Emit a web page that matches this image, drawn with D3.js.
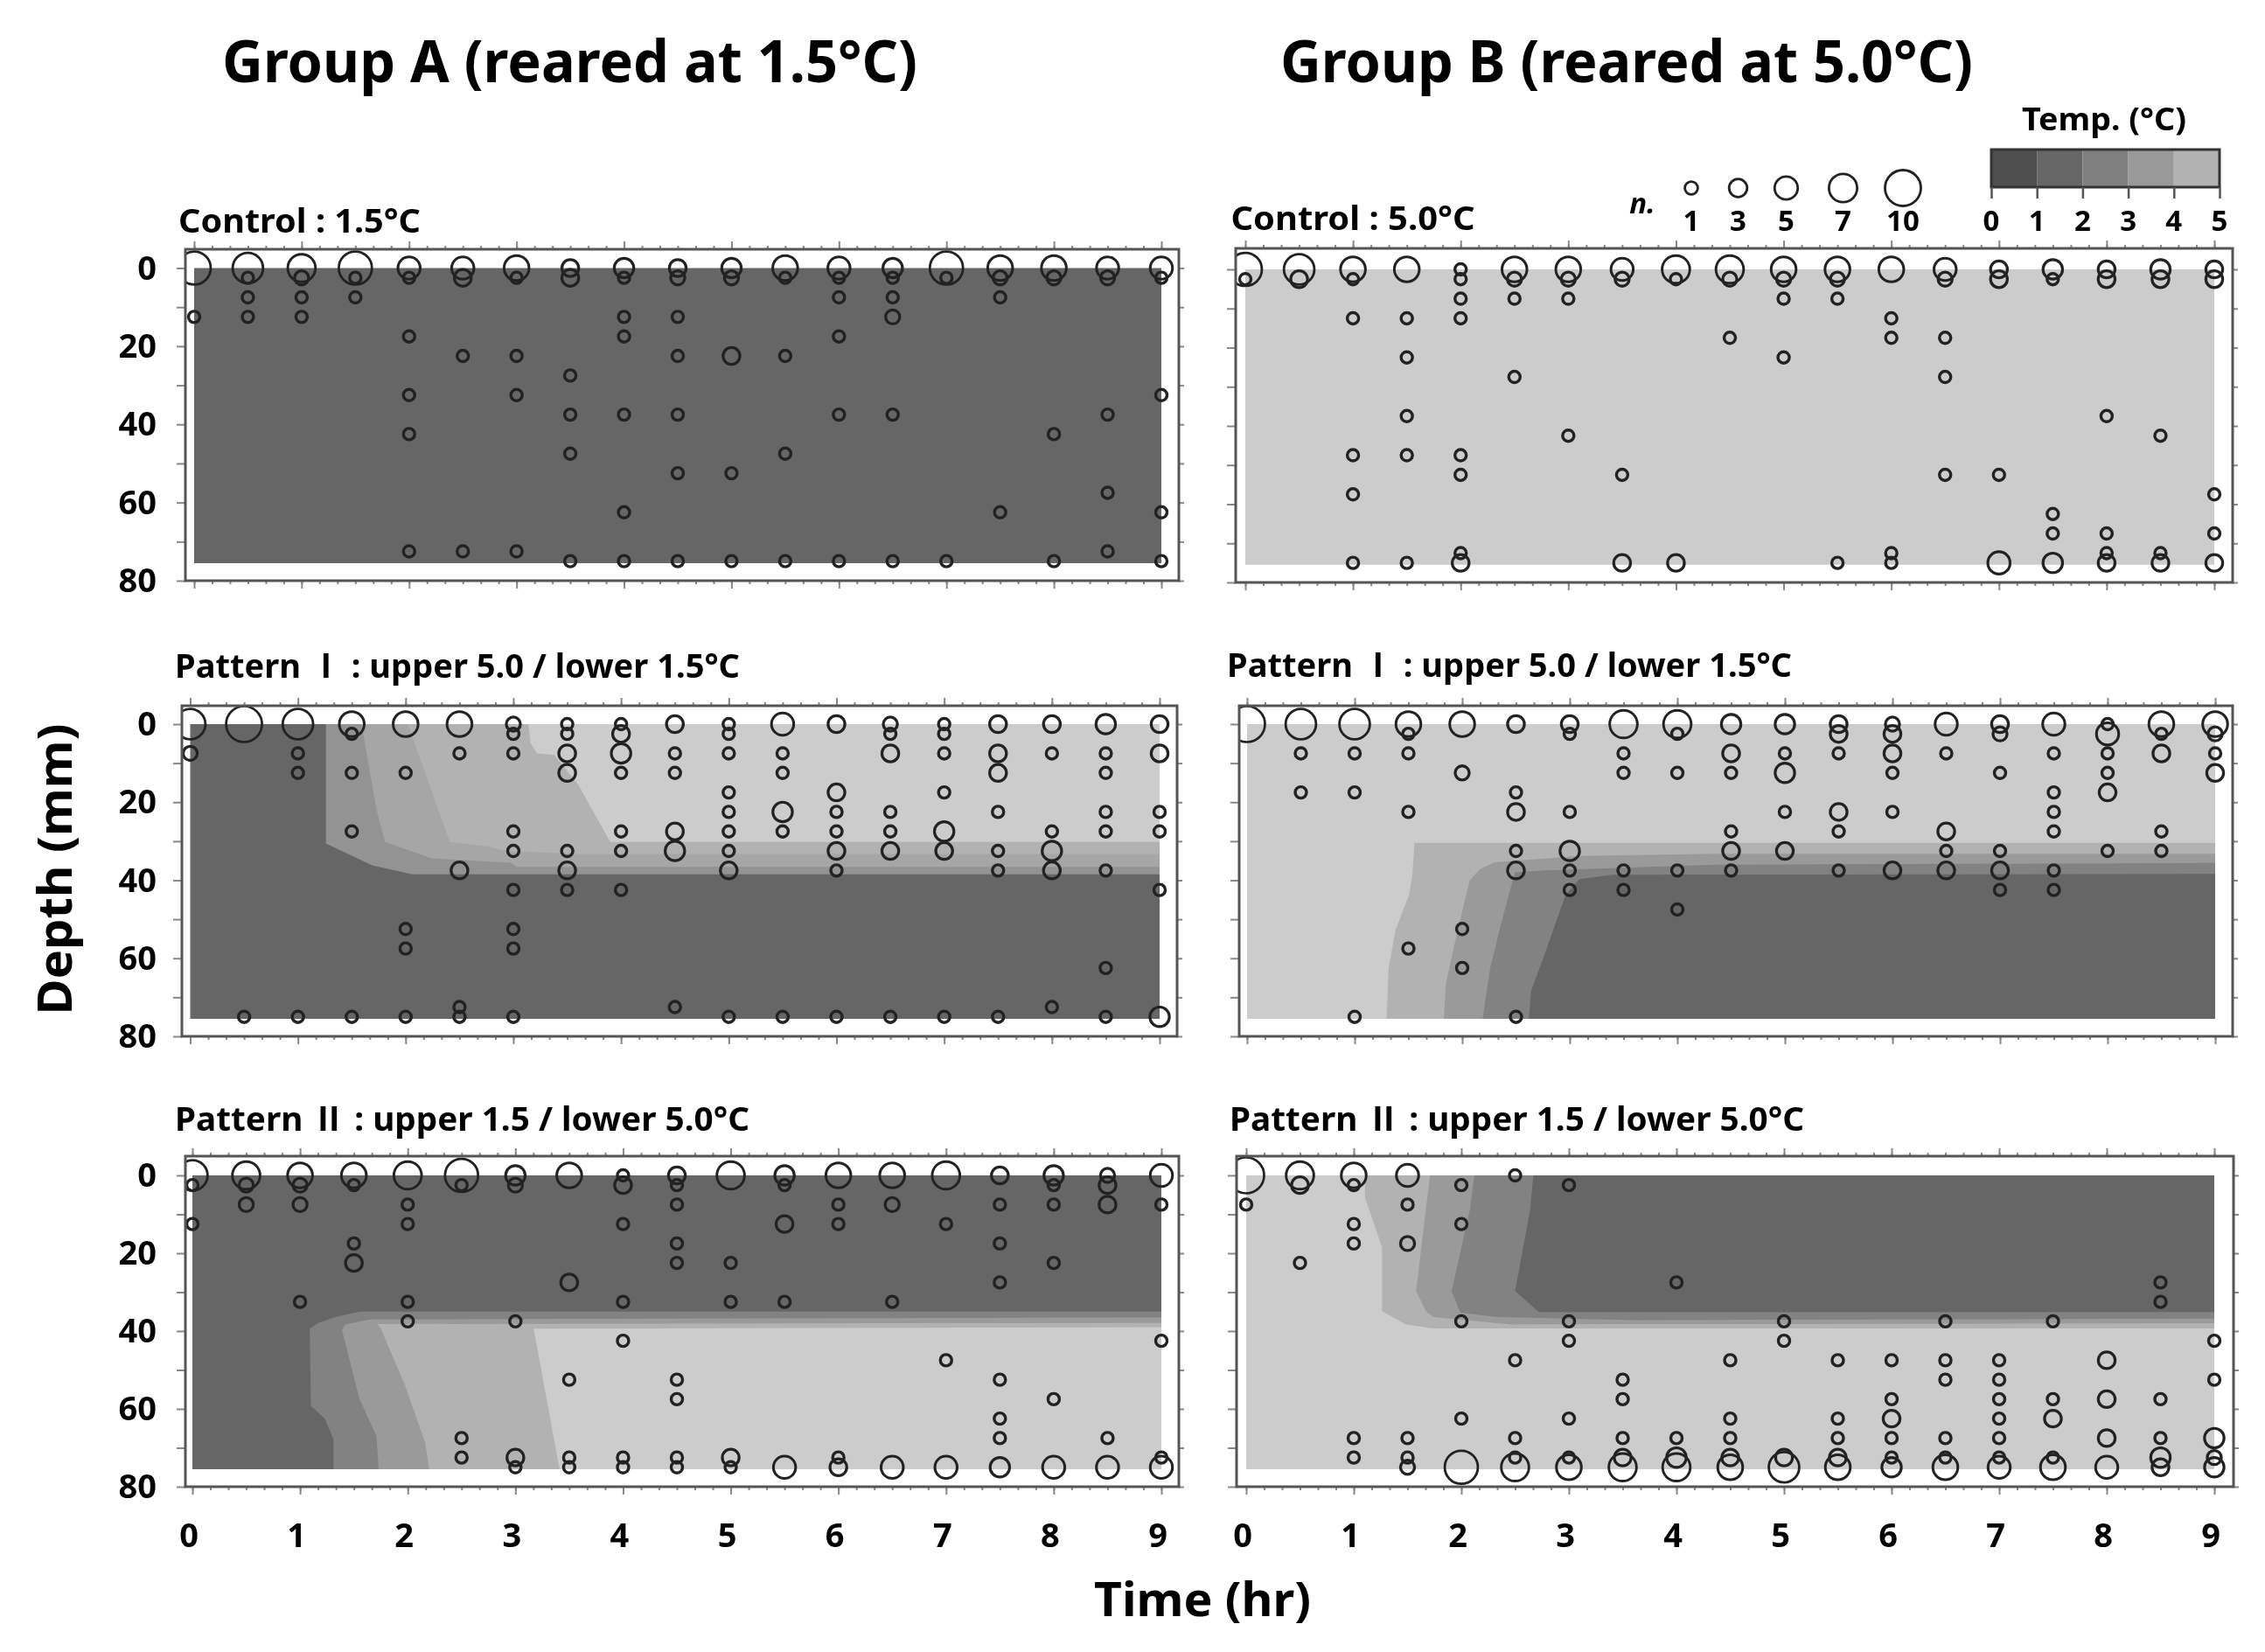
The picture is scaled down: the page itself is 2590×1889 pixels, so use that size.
<!DOCTYPE html>
<html><head><meta charset="utf-8">
<script src="https://cdn.jsdelivr.net/npm/d3@7"></script>
<style>html,body{margin:0;padding:0;background:#fff}svg{display:block;filter:blur(0.7px)}text{font-family:"Noto Sans","Noto Sans CJK KR",sans-serif;font-weight:700;fill:#000}</style>
</head><body><svg id="c" width="2590" height="1889"></svg>
<script>
const times=[0,.5,1,1.5,2,2.5,3,3.5,4,4.5,5,5.5,6,6.5,7,7.5,8,8.5,9];
const bandColors=["#666666","#828282","#9a9a9a","#b2b2b2","#cccccc"];
const bandColorsSoft=["#666666","#939393","#a6a6a6","#b2b2b2","#cccccc"];
const legendColors=["#4f4f4f","#666666","#808080","#999999","#b2b2b2"];
const depthTicks=[0,20,40,60,80];
const hourTicks=[0,1,2,3,4,5,6,7,8,9];
const sizeLegend=[1,3,5,7,10];
const tempLegend=[0,1,2,3,4,5];

// points per half hour: [depth mm, number of larvae]
const ptsA1=[[[0,9],[12.5,1]],[[0,8],[2.5,1],[7.5,1],[12.5,1]],[[0,7],[2.5,2],[7.5,1],[12.5,1]],[[0,9],[2.5,1],[7.5,1]],
[[0,5],[2.5,1],[17.5,1],[32.5,1],[42.5,1],[72.5,1]],[[0,5],[2.5,3],[22.5,1],[72.5,1]],[[0,6],[2.5,1],[22.5,1],[32.5,1],[72.5,1]],
[[0,3],[2.5,3],[27.5,1],[37.5,1],[47.5,1],[75,1]],[[0,4],[2.5,1],[12.5,1],[17.5,1],[37.5,1],[62.5,1],[75,1]],
[[0,3],[2.5,2],[12.5,1],[22.5,1],[37.5,1],[52.5,1],[75,1]],[[0,4],[2.5,2],[22.5,3],[52.5,1],[75,1]],[[0,6],[2.5,1],[22.5,1],[47.5,1],[75,1]],
[[0,5],[2.5,1],[7.5,1],[17.5,1],[37.5,1],[75,1]],[[0,4],[2.5,1],[7.5,1],[12.5,2],[37.5,1],[75,1]],[[0,9],[2.5,1],[75,1]],
[[0,6],[2.5,2],[7.5,1],[62.5,1]],[[0,6],[2.5,2],[42.5,1],[75,1]],[[0,5],[2.5,2],[37.5,1],[57.5,1],[72.5,1]],[[0,5],[2.5,1],[32.5,1],[62.5,1],[75,1]]];
const ptsB1=[[[0,9],[2.5,1]],[[0,8],[2.5,3]],[[0,6],[2.5,1],[12.5,1],[47.5,1],[57.5,1],[75,1]],[[0,6],[12.5,1],[22.5,1],[37.5,1],[47.5,1],[75,1]],
[[0,1],[2.5,1],[7.5,1],[12.5,1],[47.5,1],[52.5,1],[72.5,1],[75,3]],[[0,6],[2.5,2],[7.5,1],[27.5,1]],[[0,6],[2.5,2],[7.5,1],[42.5,1]],
[[0,5],[2.5,2],[52.5,1],[75,3]],[[0,7],[2.5,1],[75,3]],[[0,7],[2.5,2],[17.5,1]],[[0,6],[2.5,2],[7.5,1],[22.5,1]],[[0,6],[2.5,2],[7.5,1],[75,1]],
[[0,6],[12.5,1],[17.5,1],[72.5,1],[75,1]],[[0,5],[2.5,2],[17.5,1],[27.5,1],[52.5,1]],[[0,3],[2.5,3],[52.5,1],[75,5]],
[[0,4],[2.5,1],[62.5,1],[67.5,1],[75,4]],[[0,3],[2.5,3],[37.5,1],[67.5,1],[72.5,1],[75,3]],[[0,4],[2.5,3],[42.5,1],[72.5,1],[75,3]],[[0,3],[2.5,3],[57.5,1],[67.5,1],[75,3]]];
const ptsA2=[[[0,8],[7.5,2]],[[0,10],[75,1]],[[0,8],[7.5,1],[12.5,1],[75,1]],[[0,6],[2.5,1],[12.5,1],[27.5,1],[75,1]],[[0,6],[12.5,1],[52.5,1],[57.5,1],[75,1]],
[[0,6],[7.5,1],[37.5,3],[72.5,1],[75,1]],[[0,2],[2.5,1],[7.5,1],[27.5,1],[32.5,1],[42.5,1],[52.5,1],[57.5,1],[75,1]],
[[0,1],[2.5,1],[7.5,3],[12.5,3],[32.5,1],[37.5,3],[42.5,1]],[[0,1],[2.5,3],[7.5,4],[12.5,1],[27.5,1],[32.5,1],[42.5,1]],
[[0,3],[7.5,1],[12.5,1],[27.5,3],[32.5,4],[72.5,1]],[[0,1],[2.5,1],[7.5,1],[17.5,1],[22.5,1],[27.5,1],[32.5,1],[37.5,3],[75,1]],
[[0,5],[7.5,1],[12.5,1],[22.5,4],[27.5,1],[75,1]],[[0,3],[17.5,3],[22.5,1],[27.5,1],[32.5,3],[37.5,1],[75,1]],
[[0,2],[2.5,1],[7.5,3],[22.5,1],[27.5,1],[32.5,3],[75,1]],[[0,1],[2.5,1],[7.5,1],[17.5,1],[27.5,4],[32.5,3],[75,1]],
[[0,3],[7.5,3],[12.5,3],[22.5,1],[32.5,1],[37.5,1],[75,1]],[[0,3],[7.5,1],[27.5,1],[32.5,4],[37.5,3],[72.5,1]],
[[0,4],[7.5,1],[12.5,1],[22.5,1],[27.5,1],[37.5,1],[62.5,1],[75,1]],[[0,3],[7.5,3],[22.5,1],[27.5,1],[42.5,1],[75,4]]];
const ptsB2=[[[0,10]],[[0,8],[7.5,1],[17.5,1]],[[0,8],[7.5,1],[17.5,1],[75,1]],[[0,6],[2.5,1],[7.5,1],[22.5,1],[57.5,1]],[[0,6],[12.5,2],[52.5,1],[62.5,1]],
[[0,3],[17.5,1],[22.5,3],[32.5,1],[37.5,3],[75,1]],[[0,3],[2.5,1],[22.5,1],[32.5,4],[37.5,1],[42.5,1]],[[0,7],[7.5,1],[12.5,1],[37.5,1],[42.5,1]],
[[0,7],[2.5,1],[12.5,1],[37.5,1],[47.5,1]],[[0,4],[7.5,3],[12.5,1],[27.5,1],[32.5,3],[37.5,1]],[[0,4],[7.5,1],[12.5,4],[22.5,1],[32.5,3]],
[[0,3],[2.5,3],[7.5,1],[22.5,3],[27.5,1],[37.5,1]],[[0,2],[2.5,3],[7.5,3],[12.5,1],[22.5,1],[37.5,3]],[[0,5],[7.5,1],[27.5,3],[32.5,1],[37.5,3]],
[[0,3],[2.5,2],[12.5,1],[32.5,1],[37.5,3],[42.5,1]],[[0,5],[7.5,1],[17.5,1],[22.5,1],[27.5,1],[37.5,1],[42.5,1]],
[[0,1],[2.5,5],[7.5,1],[12.5,1],[17.5,3],[32.5,1]],[[0,6],[2.5,1],[7.5,3],[27.5,1],[32.5,1]],[[0,6],[2.5,2],[7.5,1],[12.5,3]]];
const ptsA3=[[[0,8],[2.5,1],[12.5,1]],[[0,7],[2.5,2],[7.5,2]],[[0,6],[2.5,2],[7.5,2],[32.5,1]],[[0,6],[2.5,1],[17.5,1],[22.5,3]],[[0,7],[7.5,1],[12.5,1],[32.5,1],[37.5,1]],
[[0,9],[2.5,1],[67.5,1],[72.5,1]],[[0,4],[2.5,2],[37.5,1],[72.5,3],[75,1]],[[0,6],[27.5,3],[52.5,1],[72.5,1],[75,1]],
[[0,1],[2.5,3],[12.5,1],[32.5,1],[42.5,1],[72.5,1],[75,1]],[[0,3],[2.5,1],[7.5,1],[17.5,1],[22.5,1],[52.5,1],[57.5,1],[72.5,1],[75,1]],
[[0,7],[22.5,1],[32.5,1],[72.5,3],[75,1]],[[0,4],[2.5,1],[12.5,3],[32.5,1],[75,5]],[[0,6],[7.5,1],[12.5,1],[72.5,1],[75,3]],
[[0,6],[7.5,2],[32.5,1],[75,5]],[[0,7],[12.5,1],[47.5,1],[75,5]],[[0,3],[7.5,1],[17.5,1],[27.5,1],[52.5,1],[62.5,1],[67.5,1],[75,4]],
[[0,4],[2.5,1],[7.5,1],[22.5,1],[57.5,1],[75,5]],[[0,2],[2.5,3],[7.5,3],[67.5,1],[75,5]],[[0,5],[7.5,1],[42.5,1],[72.5,1],[75,5]]];
const ptsB3=[[[0,10],[7.5,1]],[[0,7],[2.5,3],[22.5,1]],[[0,6],[2.5,1],[12.5,1],[17.5,1],[67.5,1],[72.5,1]],[[0,5],[7.5,1],[17.5,2],[67.5,1],[72.5,1],[75,2]],
[[2.5,1],[12.5,1],[37.5,1],[62.5,1],[75,9]],[[0,1],[47.5,1],[67.5,1],[72.5,1],[75,7]],[[2.5,1],[37.5,1],[42.5,1],[62.5,1],[72.5,1],[75,6]],
[[52.5,1],[57.5,1],[67.5,1],[72.5,3],[75,7]],[[27.5,1],[67.5,1],[72.5,4],[75,7]],[[47.5,1],[62.5,1],[67.5,1],[72.5,3],[75,6]],
[[37.5,1],[42.5,1],[72.5,3],[75,8]],[[47.5,1],[62.5,1],[67.5,1],[72.5,3],[75,6]],[[47.5,1],[57.5,1],[62.5,3],[67.5,1],[72.5,1],[75,4]],
[[37.5,1],[47.5,1],[52.5,1],[67.5,1],[72.5,1],[75,6]],[[47.5,1],[52.5,1],[57.5,1],[62.5,1],[67.5,1],[72.5,1],[75,5]],
[[37.5,1],[57.5,1],[62.5,3],[72.5,1],[75,6]],[[47.5,3],[57.5,3],[67.5,3],[75,5]],[[27.5,1],[32.5,1],[57.5,1],[67.5,1],[72.5,4],[75,3]],
[[42.5,1],[52.5,1],[67.5,4],[72.5,2],[75,4]]];

// temperature isotherm regions [time hr, depth mm]
const full=[[0,0],[9,0],[9,75.5],[0,75.5]];
const isoA2=[
 [[1.26,0],[1.26,30.6],[1.69,36.2],[2.06,38.5],[9,38.5],[9,0]],
 [[1.59,0],[1.73,22],[1.81,30.2],[2.24,34.4],[2.98,35.5],[3.03,36.6],[9,36.6],[9,0]],
 [[2.02,0],[2.41,30.2],[2.77,31.4],[2.93,32.5],[3.6,33.3],[9,33.3],[9,0]],
 [[3.14,0],[3.16,4.9],[3.22,7.5],[3.38,7.9],[3.6,15.4],[3.9,30.2],[9,30.2],[9,0]]];
const isoB2=[
 [[1.556,30.4],[9,30.4],[9,75.5],[1.297,75.5],[1.316,62.5],[1.38,52.8],[1.505,43.8],[1.537,38.6]],
 [[1.83,75.5],[1.85,66.2],[1.94,55],[2.07,40],[2.17,37.1],[2.3,35.4],[3.09,33.8],[4.35,33.2],[9,33.2],[9,75.5]],
 [[2.19,75.5],[2.26,62.5],[2.36,51.3],[2.49,38],[2.77,37.5],[4.35,36],[9,35.6],[9,75.5]],
 [[2.62,75.5],[2.64,68.4],[2.77,58.7],[2.96,43.8],[3.09,39.7],[3.4,38.6],[9,38.4],[9,75.5]]];
const isoA3=[
 [[1.31,75.5],[1.31,67.8],[1.23,62.5],[1.1,59.2],[1.09,39.4],[1.17,37.9],[1.33,36.4],[1.55,35],[9,35],[9,75.5]],
 [[1.73,75.5],[1.71,67],[1.55,57.3],[1.39,39.8],[1.42,38.3],[1.65,37],[9,36.5],[9,75.5]],
 [[2.2,75.5],[2.16,68.5],[1.97,53.6],[1.75,39.4],[1.72,38.2],[9,37.9],[9,75.5]],
 [[3.41,75.5],[3.17,39.4],[9,39],[9,75.5]]];
const isoB3=[
 [[1.105,0],[1.105,5.8],[1.263,18.5],[1.263,34.9],[1.485,38.3],[1.737,39.3],[9,39.3],[9,0]],
 [[1.71,0],[1.67,8.8],[1.58,29.7],[1.67,34.9],[1.74,36.4],[2.46,38.3],[9,38],[9,0]],
 [[2.12,0],[2.08,8.8],[1.91,29.7],[1.99,35.3],[2.34,36.4],[3.6,37.2],[9,36.8],[9,0]],
 [[2.67,0],[2.64,8.8],[2.5,29.7],[2.72,35.1],[9,35.1],[9,0]]];

const panels=[
 {title:"Control : 1.5°C",tx:204,ty:251,tw:277,L:212,R:1348,T:285,x0:222,x9:1328,y0:306.5,y80:664,pts:ptsA1,pal:bandColors,base:0,iso:[],order:[],yl:true,xl:false},
 {title:"Control : 5.0°C",tx:1407.5,ty:248,tw:279,L:1413,R:2553,T:284,x0:1424,x9:2532,y0:308,y80:666,pts:ptsB1,pal:bandColors,base:4,iso:[],order:[],yl:false,xl:false},
 {title:"Pattern Ⅰ : upper 5.0 / lower 1.5°C",tx:200,ty:760,tw:646,L:208,R:1346,T:807,x0:217.5,x9:1326,y0:828,y80:1185,pts:ptsA2,pal:bandColorsSoft,base:0,iso:isoA2,order:[1,2,3,4],yl:true,xl:false},
 {title:"Pattern Ⅰ : upper 5.0 / lower 1.5°C",tx:1403,ty:759,tw:646,L:1417,R:2553,T:807,x0:1426,x9:2533,y0:828,y80:1185,pts:ptsB2,pal:bandColors,base:4,iso:isoB2,order:[3,2,1,0],yl:false,xl:false},
 {title:"Pattern Ⅱ : upper 1.5 / lower 5.0°C",tx:200,ty:1278,tw:657,L:212,R:1348,T:1322,x0:220,x9:1328,y0:1344,y80:1700,pts:ptsA3,pal:bandColors,base:0,iso:isoA3,order:[1,2,3,4],yl:true,xl:true},
 {title:"Pattern Ⅱ : upper 1.5 / lower 5.0°C",tx:1406,ty:1278,tw:657,L:1414,R:2554,T:1322,x0:1425,x9:2532,y0:1344,y80:1700,pts:ptsB3,pal:bandColors,base:4,iso:isoB3,order:[3,2,1,0],yl:false,xl:true}
];

const svg=d3.select("#c");
const rScale=d3.scaleLinear().domain([1,10]).range([6.5,20.5]);
const rLegend=d3.scaleLinear().domain([1,10]).range([7.4,20.5]);
const strokeScale=d3.scaleLinear().domain([1,10]).range([3.4,2.7]);
const minorHours=d3.range(0,9.01,1/6);
const minorDepth=d3.range(0,81,10);
const line=d3.line();

function label(s,x,y,size,anchor,len){
 const t=svg.append("text").attr("x",x).attr("y",y).attr("font-size",size).attr("text-anchor",anchor||"middle").attr("dominant-baseline","central").text(s);
 if(len){t.attr("textLength",len).attr("lengthAdjust","spacingAndGlyphs");}
 return t;
}

panels.forEach((p,pi)=>{
 const x=d3.scaleLinear().domain([0,9]).range([p.x0,p.x9]);
 const y=d3.scaleLinear().domain([0,80]).range([p.y0,p.y80]);
 const g=svg.append("g");
 const toPath=pts=>line(pts.map(d=>[x(d[0]),y(d[1])]))+"Z";
 g.append("clipPath").attr("id","clip"+pi).append("rect").attr("x",p.L).attr("y",p.T).attr("width",p.R-p.L).attr("height",p.y80-p.T);
 g.append("path").attr("d",toPath(full)).attr("fill",p.pal[p.base]);
 p.iso.forEach((poly,i)=>g.append("path").attr("d",toPath(poly)).attr("fill",p.pal[p.order[i]]));
 const ax=(gen,tx,ty,vals,size)=>{
  const a=g.append("g").attr("transform",`translate(${tx},${ty})`).call(gen.tickValues(vals).tickSize(size).tickFormat(""));
  a.select(".domain").remove();
  a.selectAll("line").attr("stroke","#888").attr("stroke-width",2);
 };
 ax(d3.axisTop(x),0,p.T,minorHours,4);
 ax(d3.axisTop(x),0,p.T,hourTicks,9);
 ax(d3.axisBottom(x),0,p.y80,minorHours,4);
 ax(d3.axisBottom(x),0,p.y80,hourTicks,9);
 ax(d3.axisLeft(y),p.L,0,minorDepth,10);
 ax(d3.axisRight(y),p.R,0,minorDepth,6);
 const marks=g.append("g").attr("clip-path",`url(#clip${pi})`);
 p.pts.forEach((col,i)=>col.forEach(([d,n])=>{
  marks.append("circle").attr("cx",x(times[i])).attr("cy",y(d)).attr("r",rScale(n)).attr("fill","none").attr("stroke","#222").attr("stroke-width",strokeScale(n));
 }));
 g.append("rect").attr("x",p.L).attr("y",p.T).attr("width",p.R-p.L).attr("height",p.y80-p.T).attr("fill","none").attr("stroke","#555").attr("stroke-width",3);
 label(p.title,p.tx,p.ty,37,"start",p.tw);
 if(p.yl) depthTicks.forEach(d=>label(d,179,y(d)-2,38,"end"));
 if(p.xl) hourTicks.forEach(h=>label(h,x(h)-4,1754,38,"middle"));
});

// main titles
label("Group A (reared at 1.5°C)",254,68,66,"start",795);
label("Group B (reared at 5.0°C)",1464,68,66,"start",792);
label("Time (hr)",1375,1827,54,"middle",248);
svg.append("text").attr("transform","translate(61,994) rotate(-90)").attr("font-size",54).attr("text-anchor","middle").attr("dominant-baseline","central").attr("textLength",333).attr("lengthAdjust","spacingAndGlyphs").text("Depth (mm)");

// size legend
const sizePos=[1934,1987.5,2042.5,2107.5,2176];
sizeLegend.forEach((n,i)=>{
 svg.append("circle").attr("cx",sizePos[i]).attr("cy",215).attr("r",rLegend(n)).attr("fill","none").attr("stroke","#222").attr("stroke-width",2.8);
 label(n,sizePos[i],251,33,"middle");
});
label("n.",1878,231,33,"middle").attr("font-style","italic");

// temperature legend
const tx=d3.scaleLinear().domain([0,5]).range([2277,2538]);
legendColors.forEach((c,i)=>svg.append("rect").attr("x",tx(i)).attr("y",171).attr("width",tx(i+1)-tx(i)).attr("height",43).attr("fill",c));
svg.append("rect").attr("x",tx(0)).attr("y",171).attr("width",tx(5)-tx(0)).attr("height",43).attr("fill","none").attr("stroke","#333").attr("stroke-width",3);
const lg=svg.append("g").attr("transform","translate(0,214)").call(d3.axisBottom(tx).tickValues(tempLegend).tickSize(13).tickFormat(""));
lg.select(".domain").remove();
lg.selectAll("line").attr("stroke","#555").attr("stroke-width",2.5);
tempLegend.forEach(v=>label(v,tx(v),251.5,33,"middle"));
label("Temp. (°C)",2406,135,35,"middle",188);
</script></body></html>
